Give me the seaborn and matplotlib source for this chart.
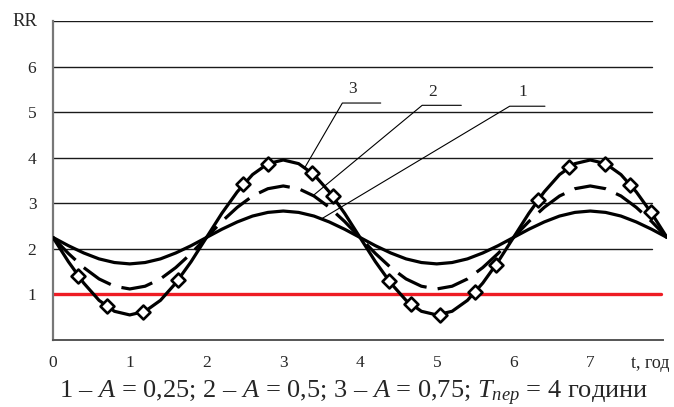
import numpy as np
import pandas as pd
import matplotlib
matplotlib.use("Agg")
import matplotlib.pyplot as plt
import seaborn as sns

# ---- data ----
t = [0.0, 0.2, 0.4, 0.6, 0.8, 1.0, 1.2, 1.4, 1.6, 1.8,
     2.0, 2.2, 2.4, 2.6, 2.8, 3.0, 3.2, 3.4, 3.6, 3.8,
     4.0, 4.2, 4.4, 4.6, 4.8, 5.0, 5.2, 5.4, 5.6, 5.8,
     6.0, 6.2, 6.4, 6.6, 6.8, 7.0, 7.2, 7.4, 7.6, 7.8, 8.0]
rr1 = [2.25, 2.07, 1.91, 1.78, 1.70, 1.67, 1.70, 1.78, 1.91, 2.07,
       2.25, 2.43, 2.59, 2.72, 2.80, 2.83, 2.80, 2.72, 2.59, 2.43,
       2.25, 2.07, 1.91, 1.78, 1.70, 1.67, 1.70, 1.78, 1.91, 2.07,
       2.25, 2.43, 2.59, 2.72, 2.80, 2.83, 2.80, 2.72, 2.59, 2.43, 2.25]
rr2 = [2.25, 1.90, 1.59, 1.34, 1.18, 1.12, 1.18, 1.34, 1.59, 1.90,
       2.25, 2.60, 2.91, 3.16, 3.32, 3.38, 3.32, 3.16, 2.91, 2.60,
       2.25, 1.90, 1.59, 1.34, 1.18, 1.12, 1.18, 1.34, 1.59, 1.90,
       2.25, 2.60, 2.91, 3.16, 3.32, 3.38, 3.32, 3.16, 2.91, 2.60, 2.25]
rr3 = [2.25, 1.72, 1.25, 0.87, 0.63, 0.55, 0.63, 0.87, 1.25, 1.72,
       2.25, 2.78, 3.25, 3.63, 3.87, 3.95, 3.87, 3.63, 3.25, 2.78,
       2.25, 1.72, 1.25, 0.87, 0.63, 0.55, 0.63, 0.87, 1.25, 1.72,
       2.25, 2.78, 3.25, 3.63, 3.87, 3.95, 3.87, 3.63, 3.25, 2.78, 2.25]
mark_t = [0.33, 0.70, 1.17, 1.63, 2.48, 2.80, 3.37, 3.65, 4.38,
          4.66, 5.04, 5.50, 5.77, 6.32, 6.72, 7.19, 7.52, 7.79]
mark_rr = [1.41, 0.74, 0.61, 1.32, 3.42, 3.87, 3.67, 3.15, 1.29,
           0.79, 0.55, 1.05, 1.65, 3.07, 3.79, 3.87, 3.41, 2.80]
threshold = 1.0
x_ticks = [0, 1, 2, 3, 4, 5, 6, 7]
y_ticks = [1, 2, 3, 4, 5, 6]
grid_levels = [2, 3, 4, 5, 6, 7]
curve_labels = ["1", "2", "3"]
x_label = "t, год"
y_label = "RR"
caption = r"1 – $A$ = 0,25; 2 – $A$ = 0,5; 3 – $A$ = 0,75; $T_{пер}$ = 4 години"

sns.set_theme(style="white")
plt.rcParams["font.family"] = ["Liberation Serif", "DejaVu Serif"]
plt.rcParams["mathtext.fontset"] = "custom"
plt.rcParams["mathtext.rm"] = "Liberation Serif"
plt.rcParams["mathtext.it"] = "Liberation Serif:italic"

df = pd.DataFrame({"t": t, "rr1": rr1, "rr2": rr2, "rr3": rr3})
mk = pd.DataFrame({"t": mark_t, "rr": mark_rr})

fig = plt.figure(figsize=(6.74, 4.07), dpi=100)
ax = fig.add_axes([53 / 674, 67 / 407, 614 / 674, 319 / 407])
ax.set_xlim(0, 8)
ax.set_ylim(0, 7)

for lv in grid_levels:
    ax.axhline(lv, xmin=0, xmax=0.975, color="#1a1a1a", lw=1.0, zorder=1)
ax.axhline(threshold, xmin=0, xmax=0.99, color="#ee1c24", lw=2.4, zorder=2)

sns.lineplot(data=df, x="t", y="rr1", ax=ax, color="black", lw=2.3, zorder=3)
sns.lineplot(data=df, x="t", y="rr2", ax=ax, color="black", lw=2.3, zorder=3,
             dashes=False)
ax.lines[-1].set_linestyle((0, (10, 3.5)))
sns.lineplot(data=df, x="t", y="rr3", ax=ax, color="black", lw=2.3, zorder=3)
sns.scatterplot(data=mk, x="t", y="rr", ax=ax, marker="D", s=50,
                facecolor="white", edgecolor="black", linewidth=1.9, zorder=4)

# leader lines with labels
leaders = [
    ("3", (3.28, 3.78), (3.77, 5.2), (4.27, 5.2), (3.90, 5.5)),
    ("2", (3.39, 3.17), (4.81, 5.15), (5.32, 5.15), (4.95, 5.45)),
    ("1", (3.50, 2.66), (5.95, 5.13), (6.41, 5.13), (6.12, 5.45)),
]
for lab, p_end, p_start, p_under, p_txt in leaders:
    ax.plot([p_end[0], p_start[0], p_under[0]], [p_end[1], p_start[1], p_under[1]],
            color="black", lw=0.8, zorder=5)
    ax.text(p_txt[0], p_txt[1], lab, fontsize=12.5, ha="center", va="center")

ax.set_xticks(x_ticks)
ax.set_xticklabels([str(v) for v in x_ticks], fontsize=12.5)
ax.set_xticks(np.arange(0.5, 8.01, 1.0), minor=True)
ax.set_yticks(y_ticks)
ax.set_yticklabels([str(v) for v in y_ticks], fontsize=12.5)
ax.tick_params(axis="x", which="both", direction="inout", length=5, width=1,
               color="#666666", pad=8)
ax.tick_params(axis="y", which="both", direction="out", length=3, width=1,
               color="#666666", pad=9)
ax.set_xlabel("")
ax.set_ylabel("")

for s in ["top", "right"]:
    ax.spines[s].set_visible(False)
ax.spines["left"].set_color("#777777")
ax.spines["left"].set_linewidth(1.6)
ax.spines["bottom"].set_color("#555555")
ax.spines["bottom"].set_linewidth(1.4)
ax.spines["bottom"].set_bounds(0, 7.95)

ax.text(7.78, -0.52, x_label, fontsize=13, ha="center", va="center")
fig.text(25 / 674, 1 - 22 / 407, y_label, fontsize=13.5, ha="center", va="center")
fig.text(354 / 674, 14 / 407, caption, fontsize=19, ha="center", va="center")

fig.savefig("out.png", dpi=100)
